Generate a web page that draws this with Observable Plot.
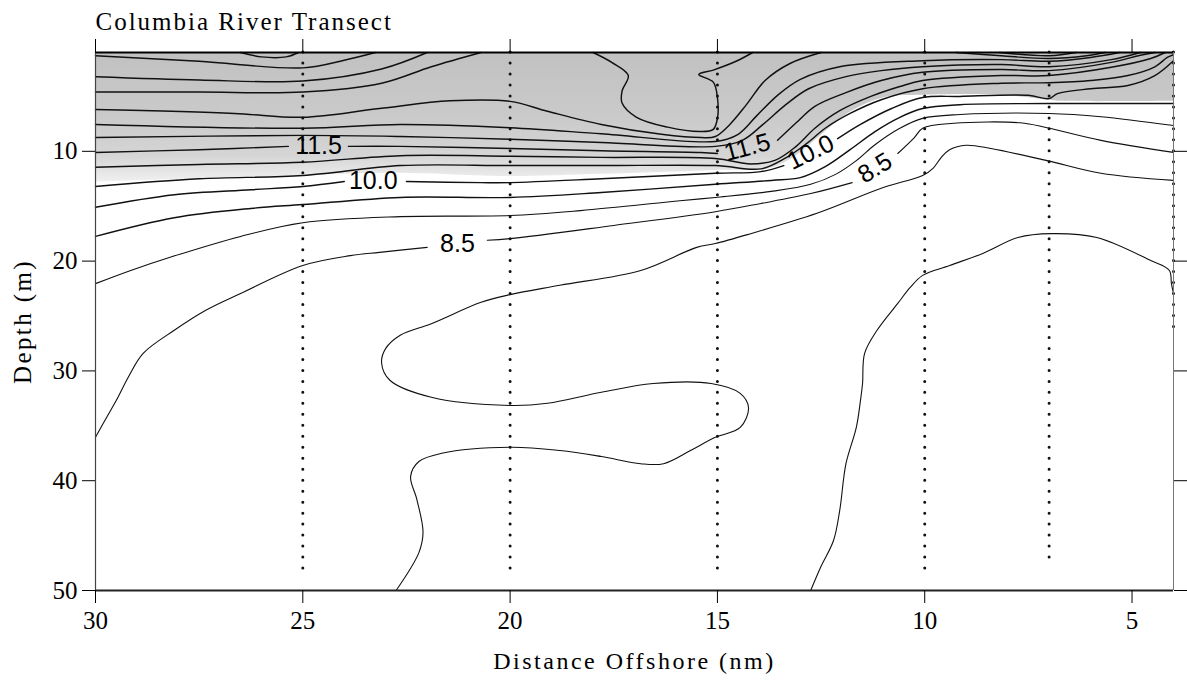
<!DOCTYPE html>
<html>
<head>
<meta charset="utf-8">
<script src="https://cdn.jsdelivr.net/npm/d3@7"></script>
<script src="https://cdn.jsdelivr.net/npm/@observablehq/plot@0.6"></script>
<style>
  html, body { margin: 0; padding: 0; background: #ffffff; }
  svg { display: block; }
</style>
</head>
<body>
<div id="chart"></div>
<script>
// ---------- data: contour lines, [distance offshore (nm), depth (m)] ----------
const iso150 = [[26.5,1],[26.0,1.4],[25.4,1.4],[25.1,1]];
const iso145 = [[30,1.3],[27.5,1.8],[25,2.4],[24,1.7],[23.25,1]];
const iso140 = [[30,3.2],[27.5,3.5],[25,3.6],[23.1,2.5],[22,1]];
const iso135 = [[30,4.6],[27.5,4.6],[25,4.6],[23.1,3.8],[21.9,2.3],[20.7,1]];
const iso135pocket = [[18.0,1],[17.55,1.9],[17.15,3.1],[17.3,4.5],[17.3,5.6],[16.95,6.9],[16.2,7.8],[15.4,8.2],[15.1,8.0],[15.0,7.0],[15.0,5.1],[15.1,3.7],[15.45,3.0],[15.1,2.6],[14.55,1.8],[14.15,1]];
const iso135top = [[8.2,1],[7.0,1.3],[6.35,1]];
const iso130 = [[30,6.2],[26.65,6.55],[25,6.9],[23.15,6.1],[21.45,5.4],[20,5.45],[19.1,6.35],[17.8,7.55],[16.35,8.45],[15.4,8.75],[15.05,8.65],[14.7,7.55],[14.3,5.75],[13.85,3.55],[13.25,2.0],[12.5,1]];
const iso130top = [[9.25,1],[8.15,1.3],[7.0,1.55],[6.1,1.3],[5.65,1]];
const iso125 = [[30,7.55],[25,7.9],[22.65,7.55],[20,7.85],[17.8,8.4],[15.05,9.1],[14.5,8.45],[14.05,6.75],[13.55,4.9],[13.0,3.45],[12.05,2.3],[10.05,1.75],[8.15,1.65],[7.0,1.8],[6.0,1.45],[5.3,1]];
const iso120 = [[30,8.75],[25,8.55],[22.65,8.65],[20,8.9],[17.8,9.2],[15.05,9.55],[14.4,9.0],[13.9,7.55],[13.35,5.75],[12.8,4.3],[11.9,3.2],[11.05,2.65],[10.05,2.3],[8.15,2.1],[7.0,2.3],[5.5,1.65],[4.8,1]];
const iso115a = [[30,10.1],[27.5,9.85],[25.35,9.55]];
const iso115b = [[23.9,9.55],[22.65,9.55],[20,9.75],[17.8,9.95],[15.4,10.1],[15.0,10.2]];
const iso115c = [[13.55,9.0],[13.1,7.4],[12.65,5.9],[11.9,4.65],[11.05,3.55],[10.05,2.8],[8.15,2.55],[7.0,2.65],[5.5,1.9],[4.8,1.25],[4.45,1]];
const iso110 = [[30,11.45],[27.5,11.2],[25,11.0],[22.65,10.4],[20,10.45],[17.8,10.55],[15.05,10.65],[14.2,11.15],[13.6,10.8],[13.1,9.55],[12.65,7.9],[12.05,6.3],[11.3,5.0],[10.6,4.1],[10.05,3.55],[8.15,3.1],[7.0,3.1],[5.5,2.35],[4.55,1.55],[4.2,1]];
const iso105 = [[30,13.2],[27.5,12.5],[25,12.2],[22.65,11.3],[20,11.3],[17.8,11.3],[15.05,11.3],[13.95,11.6],[13.35,10.6],[12.85,9.3],[12.4,7.9],[11.8,6.55],[11.05,5.3],[10.05,4.3],[8.15,3.8],[7.0,3.75],[6.0,3.55],[5.1,3.1],[4.45,2.3],[4.15,1.45],[4.0,1.2]];
const iso100a = [[30,15.1],[28.1,13.95],[26.25,13.5],[25,13.2],[24,12.75]];
const iso100b = [[22.5,12.75],[20.7,12.85],[20,12.85],[17.8,12.5],[15.05,12.0],[13.95,11.85],[13.4,11.3]];
const iso100c = [[12.1,8.85],[11.55,7.55],[10.8,6.1],[10.05,5.1],[9.15,5.0],[7.5,4.9],[7.0,5.2],[6.8,4.75],[6.0,4.3],[5.1,4.0],[4.45,3.1],[4.0,1.75]];
const iso95 = [[30,17.75],[28.1,16.05],[26.25,15.2],[25,14.85],[22.65,14.2],[20,14.2],[17.8,13.75],[15.05,13.0],[13.7,12.65],[13.0,12.4],[12.4,11.4],[11.8,9.85],[11.2,8.2],[10.6,6.9],[10.05,6.1],[9.15,5.75],[7.0,5.65],[4.0,5.65]];
const iso90 = [[30,22.05],[29.15,20.85],[28.2,19.65],[26.5,17.75],[25,16.5],[22.65,15.95],[20,15.85],[18.3,15.4],[15.9,14.5],[15.05,14.2],[13.7,13.65],[12.75,13.0],[12.15,12.1],[11.65,10.85],[11.2,9.4],[10.6,7.9],[10.05,7.0],[9.15,6.65],[7.0,6.55],[5.75,6.85],[4.0,7.65]];
const iso85a = [[30,36.05],[29.75,34.35],[29.5,32.7],[29.2,30.5],[28.85,28.4],[28.1,26.3],[27.35,24.5],[26.5,22.95],[25,20.4],[23.85,19.5],[23.15,19.2],[22.0,18.75]];
const iso85b = [[20.55,18.1],[20,17.95],[17.5,16.75],[15.05,15.5],[13.95,14.75],[12.75,13.85],[11.75,12.85]];
const iso85c = [[10.65,10.2],[10.25,8.75],[10.05,7.9],[9.3,7.45],[7.7,7.4],[7.05,7.85],[5.75,9.0],[4.0,10.1]];
const iso80 = [[4.0,12.65],[5.75,12.0],[7.05,10.85],[8.4,9.75],[9.0,9.45],[9.4,9.85],[9.6,10.55],[9.8,11.55],[10.05,12.2],[11.0,13.3],[12.6,15.65],[14.2,17.5],[15.05,18.4],[15.5,18.75],[16.85,20.85],[18.8,22.2],[20,23.05],[20.7,23.75],[21.9,25.7],[22.65,26.75],[23.0,27.95],[23.1,29.25],[22.9,30.85],[21.9,32.4],[20,33.15],[19.1,32.95],[17.8,31.95],[16.55,31.15],[15.15,31.15],[14.45,32.05],[14.25,33.35],[14.45,35.15],[15.05,36.05],[15.65,37.25],[16.3,38.45],[16.85,38.45],[17.8,37.8],[18.8,37.25],[20,36.95],[21.65,37.5],[22.2,38.25],[22.4,39.6],[22.25,41.7],[22.1,44.7],[22.2,46.55],[22.75,50]];
const iso75 = [[4.0,22.95],[4.05,22.05],[4.1,20.85],[4.55,19.95],[5.85,17.85],[6.95,17.5],[7.75,17.85],[8.6,19.3],[9.4,20.4],[10.05,21.3],[10.35,22.4],[10.65,23.85],[11.15,26.3],[11.45,28.4],[11.5,31.15],[11.55,32.7],[11.65,35.15],[11.9,38.45],[12.05,42.7],[12.2,45.45],[12.5,47.8],[12.75,50]];

// lower edge of the shaded (warm) surface layer
const grayEdge = [[30,12.8],[27.5,12.5],[25,12.2],[22.65,12.0],[20,12.3],[17.8,12.1],[15.05,11.75],[13.7,11.55],[13.1,10.4],[12.5,8.55],[11.8,6.45],[10.95,5.1],[10.05,4.9],[8.15,4.9],[7.0,5.35],[6.7,5.45],[4.0,5.45]];

// contour labels
const labelText  = ["11.5", "10.0", "8.5", "11.5", "10.0", "8.5"];
const labelDist  = [24.62, 23.3, 21.27, 14.28, 12.75, 11.2];
const labelDepth = [9.56, 12.72, 18.42, 9.65, 10.1, 11.52];
const labelAngle = [0, 0, 0, -15, -26, -32];

// CTD stations (sampled every metre)
const stations      = [25, 20, 15, 10, 7, 4];
const stationTop    = [1, 1, 1, 1, 1, 1];
const stationBottom = [49, 49, 49, 49, 47, 26];

// axis ticks
const xTicks = [30, 25, 20, 15, 10, 5];
const yTicks = [10, 20, 30, 40, 50];

const titleText = "Columbia River Transect";
const yTitle = "Depth (m)";
const xTitle = "Distance Offshore (nm)";

// ---------- build ----------
const upper = [
  [15.0, [iso150]], [14.5, [iso145]], [14.0, [iso140]],
  [13.5, [iso135, iso135pocket, iso135top]], [13.0, [iso130, iso130top]],
  [12.5, [iso125]], [12.0, [iso120]], [11.5, [iso115a, iso115b, iso115c]],
  [11.0, [iso110]], [10.5, [iso105]], [10.0, [iso100a, iso100b, iso100c]],
  [9.5, [iso95]]
];
const lower = [
  [9.0, [iso90]], [8.5, [iso85a, iso85b, iso85c]], [8.0, [iso80]], [7.5, [iso75]]
];
function toRows(list) {
  const rows = [];
  list.forEach(([level, segs]) => segs.forEach((seg, j) =>
    seg.forEach(([dist, depth]) => rows.push({level, seg: level + "-" + j, dist, depth}))));
  return rows;
}
const upperRows = toRows(upper);
const lowerRows = toRows(lower);
const labels = labelText.map((t, i) => ({t, dist: labelDist[i], depth: labelDepth[i], angle: labelAngle[i]}));
const stationRows = stations.map((s, i) => ({dist: s, top: stationTop[i], bottom: stationBottom[i]}));

const W = 1187, H = 689, mL = 95, mR = 14, mT = 52, mB = 99;
const pxPerMetre = (H - mT - mB) / 49;
const SERIF = "'Liberation Serif', 'Times New Roman', Times, serif";
const SANS = "'Liberation Sans', Arial, Helvetica, sans-serif";

const svg = Plot.plot({
  width: W, height: H,
  marginLeft: mL, marginRight: mR, marginTop: mT, marginBottom: mB,
  style: {fontFamily: SERIF, fontSize: "25px", background: "#ffffff", color: "#000000"},
  x: {domain: [30, 4], axis: null},
  y: {domain: [1, 50], reverse: true, axis: null},
  marks: [
    Plot.areaY(grayEdge, {x: d => d[0], y1: () => 1, y2: d => d[1], fill: "url(#grayGrad)", curve: "catmull-rom"}),
    Plot.line(upperRows, {x: "dist", y: "depth", z: "seg", curve: "catmull-rom", stroke: "#111", strokeWidth: 1.45}),
    Plot.line(lowerRows, {x: "dist", y: "depth", z: "seg", curve: "catmull-rom", stroke: "#111", strokeWidth: 1.1}),
    Plot.ruleX(stationRows, {x: "dist", y1: "top", y2: "bottom", stroke: "#111", strokeWidth: 3.0,
      strokeLinecap: "round", strokeDasharray: `0 ${pxPerMetre}`}),
    Plot.text(labels, {x: "dist", y: "depth", text: "t", rotate: "angle", fontFamily: SANS, fontSize: 25, fill: "#000"}),
    // frame
    Plot.ruleY([1], {stroke: "#000", strokeWidth: 1.8}),
    Plot.ruleY([50], {stroke: "#222", strokeWidth: 1.8}),
    Plot.ruleX([30], {stroke: "#444", strokeWidth: 1.2}),
    Plot.ruleX([4], {stroke: "#777", strokeWidth: 1}),
    // axes
    Plot.axisX({anchor: "bottom", ticks: xTicks, tickSize: 13, tickPadding: 8, fontSize: 25, label: null}),
    Plot.axisX({anchor: "top", ticks: xTicks, tickSize: 14, tickFormat: () => "", label: null}),
    Plot.axisY({anchor: "left", ticks: yTicks, tickSize: 13, tickPadding: 5, fontSize: 25, label: null}),
    Plot.axisY({anchor: "right", ticks: yTicks, tickSize: 13, tickFormat: () => "", label: null}),
    // titles
    Plot.text([titleText], {text: d => d, frameAnchor: "top-left", textAnchor: "start",
      lineAnchor: "middle", dy: -31, fontSize: 25, fontFamily: SERIF}),
    Plot.text([yTitle], {text: d => d, frameAnchor: "left", dx: -73, rotate: -90,
      lineAnchor: "middle", textAnchor: "middle", fontSize: 25, fontFamily: SERIF}),
    Plot.text([xTitle], {text: d => d, frameAnchor: "bottom", dy: 71,
      lineAnchor: "middle", textAnchor: "middle", fontSize: 24, fontFamily: SERIF})
  ]
});

// gradient for the shaded surface layer
const defs = d3.select(svg).insert("defs", ":first-child");
const grad = defs.append("linearGradient").attr("id", "grayGrad")
  .attr("x1", 0).attr("y1", 0).attr("x2", 0).attr("y2", 1);
[["0%", "#c1c1c1"], ["50%", "#cacaca"], ["80%", "#d5d5d5"], ["100%", "#f0f0f0"]]
  .forEach(([o, c]) => grad.append("stop").attr("offset", o).attr("stop-color", c));

// letter spacing of the serif titles
const spacing = {[titleText]: "2px", [yTitle]: "2.4px", [xTitle]: "2.5px"};
d3.select(svg).selectAll("text").each(function () {
  const t = this.textContent;
  if (spacing[t]) this.style.letterSpacing = spacing[t];
});

document.getElementById("chart").appendChild(svg);
</script>
</body>
</html>
